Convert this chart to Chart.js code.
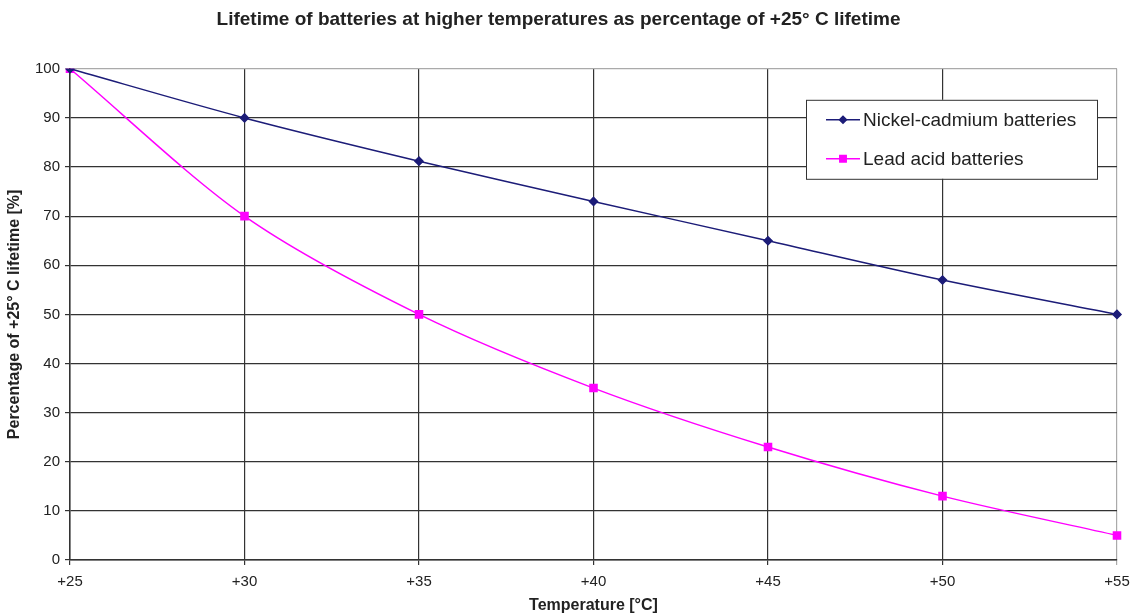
<!DOCTYPE html>
<html>
<head>
<meta charset="utf-8">
<script src="https://cdn.jsdelivr.net/npm/chart.js@4/dist/chart.umd.min.js"></script>
<style>
    html, body { margin: 0; padding: 0; background: #fff; }
    #wrap { width: 1136px; height: 615px; }
</style>
</head>
<body>
<div id="wrap"><canvas id="lifetime-chart"></canvas></div>
<script>
// data
const temperatures = ['+25', '+30', '+35', '+40', '+45', '+50', '+55'];
const nickelCadmium = [100, 90, 81.2, 73, 65, 57, 50];
const leadAcid = [100, 70, 50, 35, 23, 13, 5];
const yTicks = [0, 10, 20, 30, 40, 50, 60, 70, 80, 90, 100];

Chart.defaults.font.family = '"Liberation Sans", Arial, sans-serif';
Chart.defaults.color = '#222';

// legend box drawn inside the plot, Excel style
const boxLegend = {
    id: 'boxLegend',
    afterDraw(chart) {
        const ctx = chart.ctx;
        const area = chart.chartArea;
        const x = area.right - 311, y = area.top + 31, w = 291, h = 79;
        ctx.save();
        ctx.fillStyle = '#fff';
        ctx.fillRect(x, y, w, h);
        ctx.strokeStyle = '#333';
        ctx.lineWidth = 1;
        ctx.strokeRect(x + 0.5, y + 0.5, w, h);
        ctx.font = '19px "Liberation Sans", Arial, sans-serif';
        ctx.textBaseline = 'middle';
        chart.data.datasets.forEach((ds, i) => {
            const ly = y + 20 + i * 39;
            ctx.strokeStyle = ds.borderColor;
            ctx.lineWidth = 1.5;
            ctx.beginPath();
            ctx.moveTo(x + 20, ly);
            ctx.lineTo(x + 54, ly);
            ctx.stroke();
            Chart.helpers.drawPoint(ctx, {
                pointStyle: ds.pointStyle,
                radius: ds.pointRadius - 0.5,
                rotation: 0,
                borderWidth: 1
            }, x + 37, ly);
            ctx.fillStyle = ds.borderColor;
            ctx.fill();
            ctx.fillStyle = '#222';
            ctx.fillText(ds.label, x + 57, ly + 1);
        });
        ctx.restore();
    }
};

const ctx = document.getElementById('lifetime-chart').getContext('2d');
const chart = new Chart(ctx, {
    type: 'line',
    data: {
        labels: temperatures,
        datasets: [{
            label: 'Nickel-cadmium batteries',
            data: nickelCadmium,
            borderColor: '#1c1c78',
            backgroundColor: '#1c1c78',
            borderWidth: 1.5,
            pointStyle: 'rectRot',
            pointRadius: 4,
            tension: 0.3
        }, {
            label: 'Lead acid batteries',
            data: leadAcid,
            borderColor: '#ff00ff',
            backgroundColor: '#ff00ff',
            borderWidth: 1.5,
            pointStyle: 'rect',
            pointRadius: 5,
            tension: 0.3
        }]
    },
    options: {
        responsive: true,
        maintainAspectRatio: false,
        animation: false,
        layout: { padding: { left: 0, right: 19, top: 0, bottom: 0 } },
        plugins: {
            legend: { display: false },
            tooltip: { enabled: false },
            title: {
                display: true,
                text: 'Lifetime of batteries at higher temperatures as percentage of +25° C lifetime',
                color: '#222',
                font: { size: 19, weight: 'bold' },
                padding: { top: 8, bottom: 38 }
            }
        },
        scales: {
            x: {
                offset: false,
                grid: {
                    color: c => c.index === temperatures.length - 1 ? '#aaa' : '#333',
                    lineWidth: 1.2,
                    tickLength: 5
                },
                border: { color: '#333', width: 1.5 },
                ticks: { font: { size: 15 }, padding: 8, maxRotation: 0 },
                title: {
                    display: true,
                    text: 'Temperature [°C]',
                    font: { size: 16, weight: 'bold' },
                    padding: { top: 2, bottom: 0 }
                },
                afterFit(scale) {
                    scale.height = 55;
                    scale.paddingRight = 0;
                }
            },
            y: {
                min: 0,
                max: 100,
                afterBuildTicks(scale) { scale.ticks = yTicks.map(v => ({ value: v })); },
                grid: {
                    color: c => c.tick && c.tick.value === 100 ? '#aaa' : '#333',
                    lineWidth: 1.2,
                    tickLength: 5
                },
                border: { color: '#333', width: 1.5 },
                ticks: { font: { size: 15 }, padding: 5 },
                title: {
                    display: true,
                    text: 'Percentage of +25° C lifetime [%]',
                    font: { size: 16, weight: 'bold' },
                    padding: { top: 5, bottom: 0 }
                },
                afterFit(scale) { scale.width = 70; }
            }
        }
    },
    plugins: [boxLegend]
});
</script>
</body>
</html>
